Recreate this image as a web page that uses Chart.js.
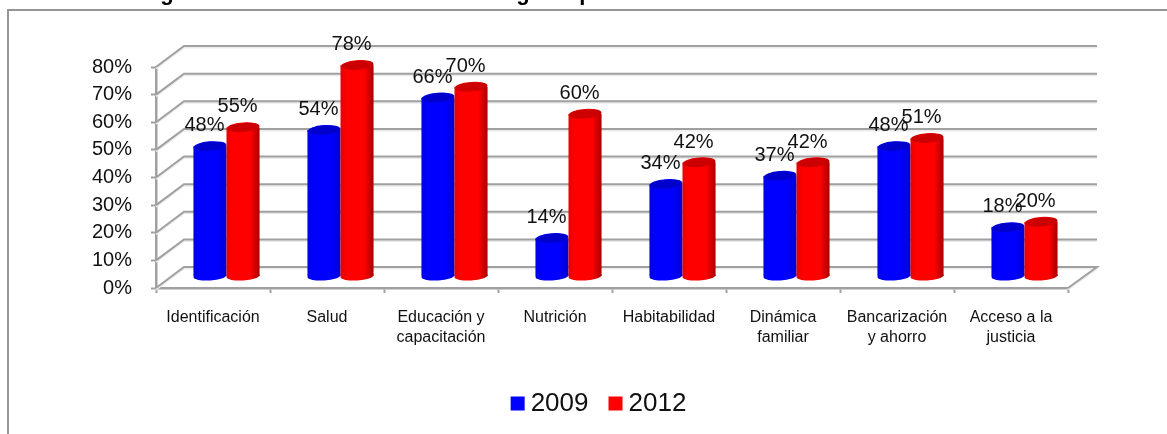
<!DOCTYPE html>
<html>
<head>
<meta charset="utf-8">
<style>html,body{margin:0;padding:0;background:#fff;overflow:hidden}canvas{display:block}</style>
<script src="https://cdn.jsdelivr.net/npm/chart.js@4"></script>
</head>
<body>
<canvas id="c" width="1167" height="434"></canvas>
<script>
const categories = [
  "Identificación", "Salud", ["Educación y", "capacitación"], "Nutrición",
  "Habitabilidad", ["Dinámica", "familiar"], ["Bancarización", "y ahorro"], ["Acceso a la", "justicia"]
];
const values2009 = [48, 54, 66, 14, 34, 37, 48, 18];
const values2012 = [55, 78, 70, 60, 42, 42, 51, 20];
const seriesNames = ["2009", "2012"];
const seriesColors = ["#0000ff", "#ff0000"];
const shades = [
  ["#0000e4", "#0000ff", "#0000ff", "#0000d0"],
  ["#e80000", "#ff0000", "#ff0000", "#a80000"]
];
const capColors = ["#0000cc", "#cc0000"];
const titleFragments = [["g", 167], ["g", 523], ["p", 586]];

const FONT = '"Liberation Sans", Arial, sans-serif';
const DEPTH_X = 28, DEPTH_Y = 21, BAR_DX = 13.5, BAR_DY = 12;
const CAT_PCT = 0.58;
const GRID = "#a0a0a0";

function barFill(ctx) {
  const i = ctx.datasetIndex;
  if (ctx.dataIndex === undefined) return seriesColors[i];
  const xs = ctx.chart.scales.x;
  const w = (xs.width / categories.length) * CAT_PCT / 2;
  const c = xs.getPixelForValue(ctx.dataIndex);
  const x0 = i === 0 ? c - w : c;
  const g = ctx.chart.ctx.createLinearGradient(x0, 0, x0 + w, 0);
  g.addColorStop(0, shades[i][0]);
  g.addColorStop(0.2, shades[i][1]);
  g.addColorStop(0.72, shades[i][2]);
  g.addColorStop(1, shades[i][3]);
  return g;
}

const scene = {
  id: "scene",
  afterLayout(chart) {
    const l = chart.legend;
    l.left += 68; l.right += 68;
    const h = l.bottom - l.top;
    l.top = 403.5 - 40; l.bottom = l.top + h;
  },
  beforeDraw(chart) {
    const c = chart.ctx;
    c.save();
    c.fillStyle = "#fff";
    c.fillRect(0, 0, chart.width, chart.height);
    c.strokeStyle = "#969696";
    c.lineWidth = 2;
    c.beginPath();
    c.moveTo(8, chart.height);
    c.lineTo(8, 10);
    c.lineTo(chart.width, 10);
    c.stroke();
    c.fillStyle = "#000";
    c.font = "bold 22px " + FONT;
    c.textAlign = "center";
    c.textBaseline = "alphabetic";
    titleFragments.forEach(([t, x]) => c.fillText(t, x, 0));
    c.restore();
  },
  beforeDatasetsDraw(chart) {
    const c = chart.ctx, y = chart.scales.y, a = chart.chartArea;
    c.save();
    const stroke = (off, col) => {
      c.strokeStyle = col;
      c.lineWidth = 2;
      y.ticks.forEach(t => {
        const p = y.getPixelForValue(t.value) + off;
        c.beginPath();
        c.moveTo(a.left, p);
        c.lineTo(a.left + DEPTH_X, p - DEPTH_Y);
        c.lineTo(a.right + DEPTH_X + 1, p - DEPTH_Y);
        if (t.value === 0) c.lineTo(a.right, p);
        c.stroke();
      });
    };
    stroke(1.5, "#ececec");
    stroke(0, GRID);
    c.restore();
  },
  beforeDatasetDraw() { return false; },
  afterDatasetsDraw(chart) {
    const c = chart.ctx;
    c.save();
    c.translate(BAR_DX, -BAR_DY);
    chart.data.datasets.forEach((ds, i) => {
      const meta = chart.getDatasetMeta(i);
      meta.data.forEach(b => {
        c.fillStyle = b.options.backgroundColor;
        c.beginPath();
        c.ellipse(b.x, b.base, b.width / 2, 4.5, -0.06, 0, Math.PI * 2);
        c.fill();
      });
      meta.controller.draw();
      meta.data.forEach(b => {
        c.fillStyle = b.options.backgroundColor;
        c.beginPath();
        c.ellipse(b.x, b.y, b.width / 2, 5, -0.08, 0, Math.PI * 2);
        c.fill();
        c.fillStyle = capColors[i];
        c.beginPath();
        c.ellipse(b.x, b.y, b.width / 2 - 1, 4.5, -0.08, 0, Math.PI * 2);
        c.fill();
      });
    });
    c.fillStyle = "#111";
    c.font = "20px " + FONT;
    c.textAlign = "center";
    c.textBaseline = "middle";
    chart.data.datasets.forEach((ds, i) => {
      chart.getDatasetMeta(i).data.forEach((b, j) => {
        c.fillText(ds.data[j] + "%", b.x - 5.5, b.y - 20.5);
      });
    });
    c.restore();
  }
};

new Chart(document.getElementById("c"), {
  type: "bar",
  data: {
    labels: categories,
    datasets: [
      { label: seriesNames[0], data: values2009, backgroundColor: barFill, yAxisID: "yBars" },
      { label: seriesNames[1], data: values2012, backgroundColor: barFill, yAxisID: "yBars" }
    ]
  },
  plugins: [scene],
  options: {
    responsive: false,
    animation: false,
    devicePixelRatio: 1,
    categoryPercentage: CAT_PCT,
    barPercentage: 1,
    layout: { padding: { left: 0, right: 99, top: 67, bottom: 0 } },
    plugins: {
      title: { display: false },
      tooltip: { enabled: false },
      legend: {
        position: "bottom",
        labels: {
          usePointStyle: true,
          boxWidth: 0.01,
          boxHeight: 14,
          padding: 27,
          color: "#111",
          font: { family: FONT, size: 26 },
          generateLabels: chart => chart.data.datasets.map((d, i) => ({
            text: d.label, fillStyle: seriesColors[i], strokeStyle: seriesColors[i],
            lineWidth: 0, pointStyle: "rect", datasetIndex: i, fontColor: "#111"
          }))
        }
      }
    },
    scales: {
      x: {
        afterFit(s) { s.height = 83; },
        grid: { offset: true, drawOnChartArea: false, drawTicks: true, tickLength: 5, tickColor: GRID, tickWidth: 2 },
        border: { color: GRID, width: 2.5 },
        ticks: {
          autoSkip: false, maxRotation: 0, minRotation: 0, padding: 15, color: "#111",
          font: { family: FONT, size: 16, lineHeight: 1.25 }
        }
      },
      y: {
        min: 0, max: 80,
        afterFit(s) { s.width = 156; },
        grid: { drawOnChartArea: false, tickLength: 5, tickColor: GRID, tickWidth: 2 },
        border: { color: GRID, width: 2.5 },
        ticks: {
          stepSize: 10, padding: 19, color: "#111",
          font: { family: FONT, size: 20 },
          callback: v => v + "%"
        }
      },
      yBars: { display: false, min: 0, max: 81.8 }
    }
  }
});
</script>
</body>
</html>
